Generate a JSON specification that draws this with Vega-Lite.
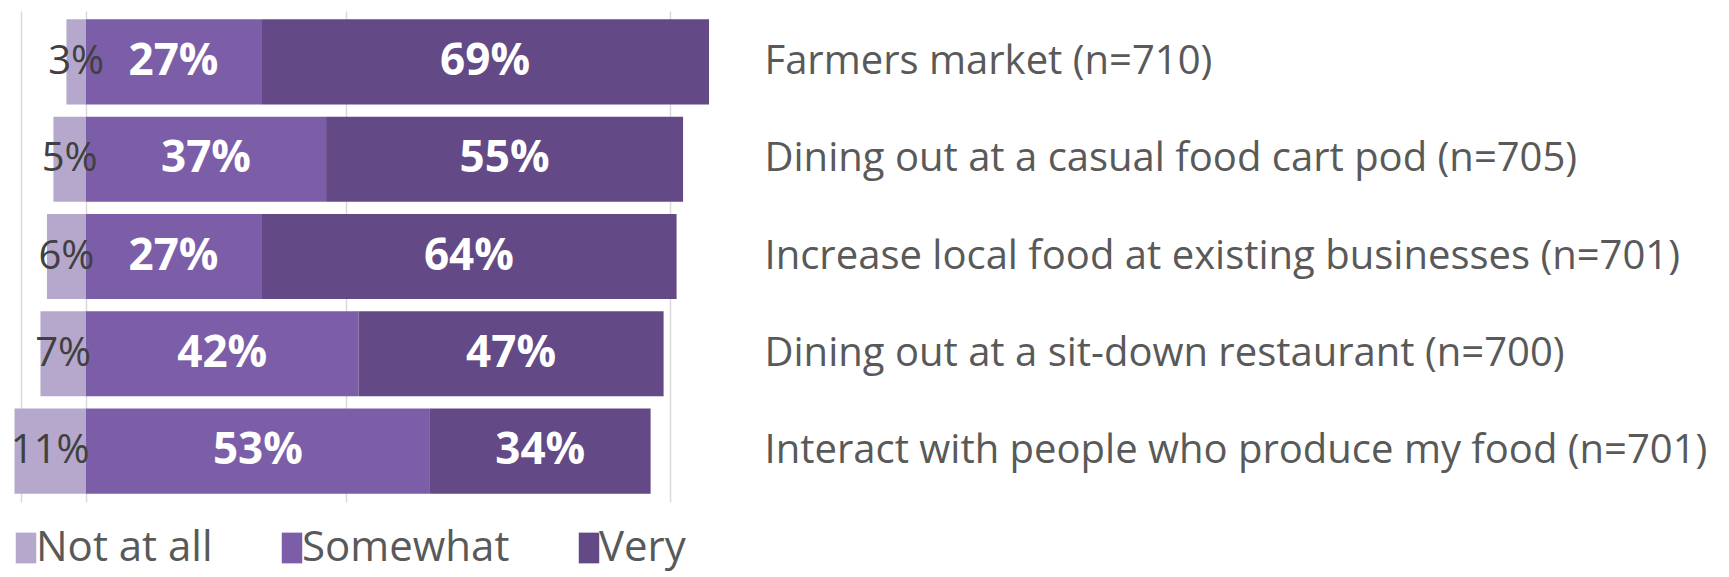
{
  "$schema": "https://vega.github.io/schema/vega-lite/v6.json",
  "width": 714,
  "height": 491,
  "autosize": {"type": "none"},
  "padding": {"left": 21, "top": 11, "right": 994, "bottom": 75},
  "background": "white",
  "config": {"view": {"stroke": null}, "font": "Open Sans"},
  "data": {
    "values": [
      {"category": "Farmers market (n=710)", "response": "Not at all", "pct": 3},
      {"category": "Farmers market (n=710)", "response": "Somewhat", "pct": 27},
      {"category": "Farmers market (n=710)", "response": "Very", "pct": 69},
      {"category": "Dining out at a casual food cart pod  (n=705)", "response": "Not at all", "pct": 5},
      {"category": "Dining out at a casual food cart pod  (n=705)", "response": "Somewhat", "pct": 37},
      {"category": "Dining out at a casual food cart pod  (n=705)", "response": "Very", "pct": 55},
      {"category": "Increase local food at existing businesses (n=701)", "response": "Not at all", "pct": 6},
      {"category": "Increase local food at existing businesses (n=701)", "response": "Somewhat", "pct": 27},
      {"category": "Increase local food at existing businesses (n=701)", "response": "Very", "pct": 64},
      {"category": "Dining out at a sit-down restaurant (n=700)", "response": "Not at all", "pct": 7},
      {"category": "Dining out at a sit-down restaurant (n=700)", "response": "Somewhat", "pct": 42},
      {"category": "Dining out at a sit-down restaurant (n=700)", "response": "Very", "pct": 47},
      {"category": "Interact with people who produce my food (n=701)", "response": "Not at all", "pct": 11},
      {"category": "Interact with people who produce my food (n=701)", "response": "Somewhat", "pct": 53},
      {"category": "Interact with people who produce my food (n=701)", "response": "Very", "pct": 34}
    ]
  },
  "transform": [
    {"calculate": "datum.response == 'Not at all' ? -datum.pct : datum.pct", "as": "signed"},
    {"calculate": "datum.pct + '%'", "as": "label"}
  ],
  "encoding": {
    "y": {
      "field": "category",
      "type": "nominal",
      "sort": null,
      "scale": {"paddingInner": 0.126, "paddingOuter": 0.086},
      "axis": {
        "orient": "right",
        "title": null,
        "ticks": false,
        "domain": false,
        "labelPadding": 29,
        "labelFontSize": 40,
        "labelColor": "#595959",
        "labelLimit": 1200,
        "labelAlign": "left"
      }
    }
  },
  "layer": [
    {
      "mark": {"type": "bar"},
      "encoding": {
        "x": {
          "field": "signed",
          "type": "quantitative",
          "stack": "zero",
          "scale": {"domain": [-10, 100], "nice": false, "zero": false},
          "axis": {
            "values": [-10, 0, 40, 90],
            "grid": true,
            "gridColor": "#d9d9d9",
            "gridWidth": 1.5,
            "labels": false,
            "ticks": false,
            "domain": false,
            "title": null
          }
        },
        "order": {"field": "response", "sort": "ascending"},
        "color": {
          "field": "response",
          "type": "nominal",
          "scale": {
            "domain": ["Not at all", "Somewhat", "Very"],
            "range": ["#b5a8cc", "#7c5ea8", "#634a87"]
          },
          "legend": {
            "orient": "none",
            "legendX": -16,
            "legendY": 516,
            "direction": "horizontal",
            "title": null,
            "symbolType": "M-1,-1.5H1V1.5H-1Z",
            "symbolSize": 420,
            "symbolStrokeWidth": 0,
            "labelFontSize": 42,
            "labelColor": "#595959",
            "labelOffset": -11,
            "columnPadding": 58,
            "labelLimit": 400
          }
        }
      }
    },
    {
      "transform": [{"filter": "datum.response != 'Not at all'"}],
      "mark": {"type": "text", "color": "white", "fontWeight": "bold", "fontSize": 44, "baseline": "middle"},
      "encoding": {
        "x": {"field": "signed", "type": "quantitative", "stack": "zero", "bandPosition": 0.5},
        "order": {"field": "response", "sort": "ascending"},
        "text": {"field": "label"}
      }
    },
    {
      "transform": [{"filter": "datum.response == 'Not at all'"}],
      "mark": {"type": "text", "color": "#404040", "fontSize": 40, "baseline": "middle"},
      "encoding": {
        "x": {"field": "signed", "type": "quantitative", "stack": "zero", "bandPosition": 0.5},
        "order": {"field": "response", "sort": "ascending"},
        "text": {"field": "label"}
      }
    }
  ]
}
